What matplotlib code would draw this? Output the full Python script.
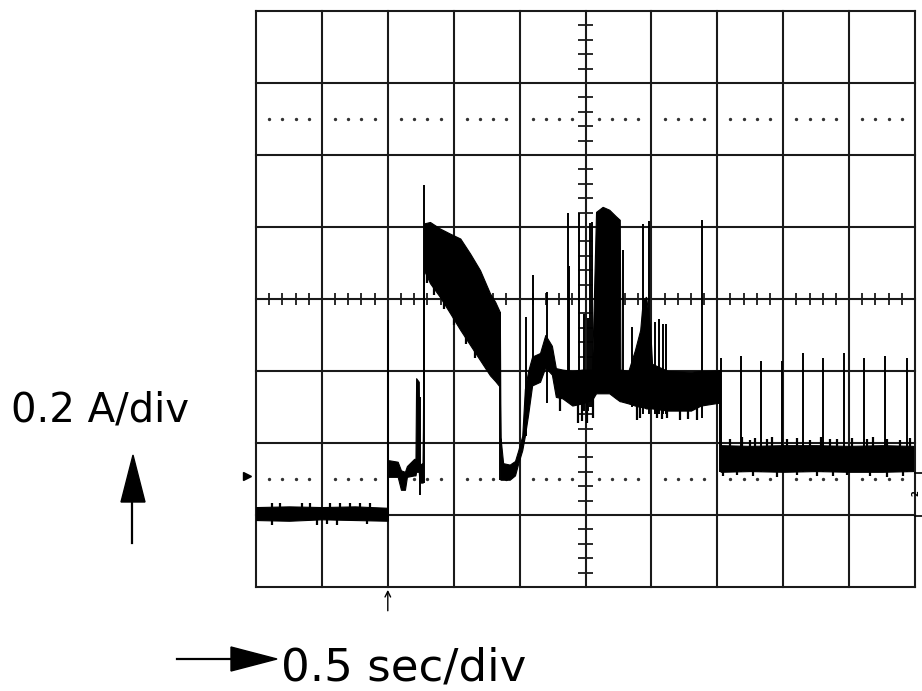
"""Oscilloscope capture: supply current vs time (0.2 A/div, 0.5 sec/div).

Everything is drawn in screen divisions: x 0..10, y 0..8.
"""

import matplotlib.pyplot as plt
from matplotlib.patches import Polygon
import numpy as np

W, H = 922, 691

# noisy trace envelope (x, low edge, high edge) in divisions
TRACE_X = [0.00, 0.50, 1.00, 1.50, 2.00,
           2.00, 2.02, 2.15, 2.20, 2.26, 2.29, 2.40, 2.42, 2.43, 2.47, 2.48, 2.53,
           2.55, 2.64, 2.79, 2.94, 3.10, 3.25, 3.40, 3.55, 3.63, 3.70,
           3.71, 3.75, 3.85, 3.93, 3.98, 4.04, 4.08, 4.13, 4.19, 4.31, 4.39, 4.49,
           4.55, 4.65, 4.80, 4.95, 5.10, 5.16, 5.26, 5.36, 5.46, 5.52, 5.53, 5.65,
           5.75, 5.83, 5.87, 5.92, 5.98, 6.01, 6.25, 6.60, 6.75, 7.03,
           7.05, 7.50, 8.00, 8.50, 9.00, 9.50, 9.97]
TRACE_LO = [0.93, 0.92, 0.94, 0.93, 0.92,
            1.53, 1.53, 1.53, 1.35, 1.35, 1.53, 1.55, 1.55, 1.60, 1.60, 1.45, 1.45,
            4.40, 4.22, 4.03, 3.81, 3.57, 3.36, 3.15, 2.94, 2.86, 2.78,
            1.49, 1.49, 1.49, 1.55, 1.72, 1.90, 2.10, 2.40, 2.80, 2.85, 3.05, 2.95,
            2.64, 2.62, 2.52, 2.55, 2.60, 2.69, 2.69, 2.69, 2.62, 2.58, 2.58, 2.55,
            2.52, 2.50, 2.50, 2.48, 2.48, 2.48, 2.45, 2.45, 2.52, 2.56,
            1.60, 1.61, 1.60, 1.61, 1.60, 1.60, 1.61]
TRACE_HI = [1.11, 1.12, 1.11, 1.12, 1.10,
            1.76, 1.76, 1.74, 1.62, 1.60, 1.68, 1.78, 1.78, 2.90, 2.85, 1.70, 1.72,
            5.05, 5.07, 4.98, 4.91, 4.84, 4.63, 4.40, 4.08, 3.96, 3.82,
            2.08, 1.72, 1.70, 1.75, 1.90, 2.10, 2.75, 3.00, 3.20, 3.25, 3.50, 3.35,
            3.04, 3.02, 3.00, 3.02, 3.02, 5.21, 5.28, 5.24, 5.15, 5.10, 3.02, 3.00,
            3.29, 3.57, 3.99, 4.03, 3.60, 3.10, 3.00, 2.99, 3.00, 3.01,
            1.97, 1.96, 1.97, 1.97, 1.96, 1.97, 1.96]

# single glitches / edges: position, foot, tip
SPIKE_X = [2.00, 2.49, 2.55, 3.70, 4.10, 4.20, 4.42, 4.73, 4.75, 4.90, 4.98, 5.04,
           5.07, 5.10, 5.57, 5.71, 5.88, 5.96, 6.05, 6.12, 6.18, 6.22, 6.77, 7.04,
           7.06, 7.36, 7.66, 7.98, 8.30, 8.60, 8.92, 9.23, 9.54, 9.88]
SPIKE_LO = [0.92, 1.28, 1.45, 1.49, 2.10, 2.80, 2.55, 2.60, 2.60, 2.60, 2.45, 2.45,
            2.50, 2.50, 2.60, 2.50, 2.40, 2.40, 2.40, 2.40, 2.40, 2.40, 2.35, 1.60,
            1.60, 1.60, 1.60, 1.60, 1.60, 1.60, 1.60, 1.60, 1.60, 1.60]
SPIKE_HI = [3.71, 2.64, 5.58, 3.82, 3.75, 4.33, 4.10, 5.19, 4.46, 5.19, 3.79, 3.74,
            5.06, 5.07, 4.68, 3.61, 5.04, 5.08, 3.68, 3.72, 3.65, 3.65, 5.10, 3.01,
            3.18, 3.21, 3.14, 3.14, 3.25, 3.18, 3.25, 3.18, 3.21, 3.18]

# short noise ticks that make the band edges ragged: position, foot, tip
NOISE_X = [0.24, 0.36, 0.70, 0.82, 1.12, 1.27, 1.43, 1.58, 1.73,
           0.24, 0.93, 1.08, 1.23, 1.68,
           2.60, 2.70, 2.85, 3.00, 3.18, 3.33,
           4.62, 4.89, 4.95, 5.02, 5.11, 5.78, 5.83, 6.08, 6.16, 6.24, 6.43, 6.55, 6.69,
           7.19, 7.37, 7.50, 7.57, 7.75, 7.83, 8.06, 8.21, 8.41, 8.57, 8.71, 8.82,
           9.04, 9.27, 9.36, 9.57, 9.77, 9.92,
           7.09, 7.30, 7.54, 7.91, 8.21, 8.51, 8.76, 8.97, 9.32, 9.57, 9.82]
NOISE_LO = [1.05, 1.05, 1.05, 1.05, 1.05, 1.05, 1.05, 1.05, 1.05,
            0.86, 0.86, 0.87, 0.86, 0.87,
            4.22, 4.06, 3.86, 3.64, 3.38, 3.18,
            2.45, 2.28, 2.30, 2.28, 2.35, 2.32, 2.35, 2.35, 2.33, 2.35, 2.32, 2.34, 2.32,
            1.90, 1.90, 1.90, 1.90, 1.90, 1.90, 1.90, 1.90, 1.90, 1.90, 1.90, 1.90,
            1.90, 1.90, 1.90, 1.90, 1.90, 1.90,
            1.54, 1.55, 1.54, 1.53, 1.55, 1.54, 1.54, 1.55, 1.54, 1.53, 1.54]
NOISE_HI = [1.17, 1.16, 1.17, 1.16, 1.17, 1.16, 1.17, 1.16, 1.17,
            0.98, 0.98, 0.98, 0.98, 0.98,
            4.35, 4.20, 4.00, 3.78, 3.52, 3.32,
            2.70, 2.60, 2.60, 2.60, 2.65, 2.60, 2.60, 2.60, 2.60, 2.60, 2.60, 2.60, 2.60,
            2.06, 2.08, 2.04, 2.07, 2.05, 2.08, 2.05, 2.07, 2.04, 2.08, 2.05, 2.06,
            2.07, 2.05, 2.08, 2.06, 2.04, 2.07,
            1.66, 1.66, 1.66, 1.66, 1.66, 1.66, 1.66, 1.66, 1.66, 1.66, 1.66]

GROUND_MARK_Y = 1.54      # channel ground arrow on the left
TRIGGER_X = 2.0           # trigger arrow under the screen
N_XDIV, N_YDIV = 10, 8


def fig_xy(x, y):
    """figure pixel (from top-left) -> figure fraction"""
    return x / W, 1 - y / H


def main():
    fig = plt.figure(figsize=(W / 100, H / 100), dpi=100)
    fig.patch.set_facecolor("white")
    ax = fig.add_axes([256 / W, 1 - 587 / H, 659 / W, 576 / H])
    ax.set_xlim(0, N_XDIV)
    ax.set_ylim(0, N_YDIV)
    ax.axis("off")

    # graticule
    for gx in range(N_XDIV + 1):
        ax.axvline(gx, color="#1a1a1a", lw=1.5, clip_on=False, zorder=1)
    for gy in range(N_YDIV + 1):
        ax.axhline(gy, color="#1a1a1a", lw=1.5, clip_on=False, zorder=1)

    minor_x = np.array([v for v in np.arange(0, N_XDIV + 0.01, 0.2) if abs(v - round(v)) > 0.05])
    minor_y = np.array([v for v in np.arange(0, N_YDIV + 0.01, 0.2) if abs(v - round(v)) > 0.05])
    # dotted rows
    for ry in (1.5, 6.5):
        ax.plot(minor_x, np.full_like(minor_x, ry), ls="none", marker="o", ms=1.4,
                color="#333333", zorder=1)
    # centre axes with minor ticks
    ax.vlines(minor_x, 4 - 0.08, 4 + 0.08, color="#1a1a1a", lw=1.3, zorder=1)
    ax.hlines(minor_y, 5 - 0.11, 5 + 0.11, color="#1a1a1a", lw=1.3, zorder=1)

    # trace
    ax.fill_between(TRACE_X, TRACE_LO, TRACE_HI, color="black", lw=0.8,
                    edgecolor="black", zorder=3)
    ax.vlines(SPIKE_X, SPIKE_LO, SPIKE_HI, color="black", lw=1.4, zorder=3)
    ax.vlines(NOISE_X, NOISE_LO, NOISE_HI, color="black", lw=1.6, zorder=3)

    # markers around the screen
    ax.plot([-0.13], [GROUND_MARK_Y], marker=">", ms=6, color="black", clip_on=False)
    ax.annotate("", xy=(TRIGGER_X, -0.04), xytext=(TRIGGER_X, -0.33),
                arrowprops=dict(arrowstyle="->", lw=1.0, color="black",
                                shrinkA=0, shrinkB=0),
                annotation_clip=False)
    ax.text(10.085, 1.30, "2", rotation=90, ha="right", va="center", fontsize=6,
            fontweight="bold", clip_on=False)
    ax.plot([10.0, 10.1], [1.58, 1.58], color="black", lw=1.2, clip_on=False)
    ax.plot([10.0, 10.1], [0.99, 0.99], color="black", lw=1.2, clip_on=False)

    # scale labels and arrows
    fig.text(*fig_xy(11, 422), "0.2 A/div", fontsize=29, va="baseline", ha="left",
             family="DejaVu Sans")
    fig.text(*fig_xy(281, 681), "0.5 sec/div", fontsize=32.5, va="baseline", ha="left",
             family="DejaVu Sans")

    fig.add_artist(plt.Line2D(*zip(fig_xy(132, 543), fig_xy(132, 500)),
                              transform=fig.transFigure, color="black", lw=1.6))
    fig.add_artist(Polygon([fig_xy(121, 502), fig_xy(145, 502), fig_xy(133, 455)],
                           closed=True, transform=fig.transFigure, color="black"))
    fig.add_artist(plt.Line2D(*zip(fig_xy(177, 659), fig_xy(233, 659)),
                              transform=fig.transFigure, color="black", lw=1.6))
    fig.add_artist(Polygon([fig_xy(231, 647), fig_xy(231, 671), fig_xy(277, 659)],
                           closed=True, transform=fig.transFigure, color="black"))

    fig.savefig("out.png", dpi=100, facecolor="white")


if __name__ == "__main__":
    main()
